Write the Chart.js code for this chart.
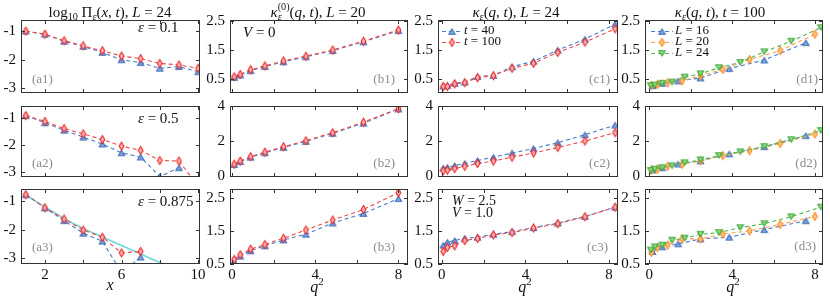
<!DOCTYPE html>
<html>
<head>
<meta charset="utf-8">
<script src="https://cdn.jsdelivr.net/npm/chart.js@4.4.0/dist/chart.umd.min.js"></script>
<style>
  html, body { margin: 0; padding: 0; background: #fff; }
  #wrap { position: relative; width: 830px; height: 299px; overflow: hidden; }
  #wrap canvas { position: absolute; }
</style>
</head>
<body>
<div id="wrap"></div>
<script>
// ---- data ----
const xA = [1, 2, 3, 4, 5, 6, 7, 8, 9, 10];
const a1Red = [-0.99, -1.1, -1.33, -1.51, -1.68, -1.87, -1.96, -2.13, -2.18, -2.3];
const a1Blue = [-0.99, -1.1, -1.35, -1.53, -1.74, -2.0, -2.1, -2.3, -2.24, -2.42];
const a2Red = [-0.89, -1.11, -1.38, -1.58, -1.79, -2.04, -2.2, -2.58, -2.6, -3.53];
const a2Blue = [-0.89, -1.16, -1.44, -1.7, -1.96, -2.29, -2.45, -3.18, -2.85];
const a3Red = [-0.77, -1.23, -1.62, -2.01, -2.26, -2.81, -2.76];
const a3Blue = [-0.77, -1.23, -1.68, -2.12, -2.4, -3.5, -2.96];
const a3FitX = [1, 2, 3, 4, 5, 6, 7, 8, 8.2];
const a3FitY = [-0.77, -1.2, -1.6, -1.95, -2.25, -2.55, -2.85, -3.15, -3.22];

const q2L16 = [0.15, 0.62, 1.39, 2.47, 3.86, 5.55, 7.56];
const q2L20 = [0.1, 0.39, 0.89, 1.58, 2.47, 3.55, 4.84, 6.32, 8.0];
const q2L24 = [0.07, 0.27, 0.62, 1.1, 1.71, 2.47, 3.36, 4.39, 5.55, 6.85, 8.29];

const b1Red = [0.59, 0.67, 0.83, 0.96, 1.13, 1.29, 1.5, 1.8, 2.18];
const b1Blue = [0.57, 0.65, 0.8, 0.94, 1.1, 1.27, 1.48, 1.78, 2.16];
const b2Red = [0.68, 0.86, 1.11, 1.37, 1.68, 2.02, 2.48, 3.08, 3.85];
const b2Blue = [0.66, 0.83, 1.08, 1.33, 1.64, 1.98, 2.44, 3.02, 3.83];
const b3Red = [0.64, 0.78, 0.95, 1.09, 1.28, 1.53, 1.83, 2.15, 2.66];
const b3Blue = [0.58, 0.74, 0.9, 1.05, 1.23, 1.4, 1.74, 2.03, 2.48];

const c1T100 = [0.26, 0.26, 0.35, 0.39, 0.56, 0.63, 0.88, 1.05, 1.42, 1.77, 2.22];
const c1T40 = [0.28, 0.3, 0.37, 0.41, 0.6, 0.64, 0.93, 1.12, 1.5, 1.87, 2.38];
const c2T100 = [0.31, 0.34, 0.43, 0.56, 0.72, 0.86, 1.08, 1.32, 1.63, 2.0, 2.48];
const c2T40 = [0.46, 0.5, 0.6, 0.73, 0.89, 1.08, 1.32, 1.57, 1.91, 2.36, 2.91];
const c3T100 = [0.88, 1.0, 1.05, 1.21, 1.27, 1.38, 1.45, 1.59, 1.72, 1.93, 2.22];
const c3T40 = [1.07, 1.16, 1.21, 1.28, 1.31, 1.4, 1.48, 1.6, 1.74, 1.94, 2.22];

const d1L16 = [0.29, 0.37, 0.45, 0.55, 0.87, 1.16, 1.75];
const d1L20 = [0.29, 0.33, 0.39, 0.45, 0.63, 0.84, 1.18, 1.48, 2.04];
const d1L24 = [0.29, 0.31, 0.37, 0.41, 0.58, 0.69, 0.9, 1.08, 1.44, 1.8, 2.26];
const d2L16 = [0.35, 0.48, 0.69, 0.87, 1.27, 1.68, 2.31];
const d2L20 = [0.35, 0.4, 0.56, 0.68, 0.87, 1.17, 1.45, 1.86, 2.4];
const d2L24 = [0.32, 0.4, 0.48, 0.59, 0.76, 0.92, 1.17, 1.39, 1.68, 2.08, 2.6];
const d3L16 = [0.88, 1.02, 1.11, 1.26, 1.31, 1.54, 1.81];
const d3L20 = [0.85, 1.0, 1.07, 1.26, 1.26, 1.41, 1.5, 1.7, 1.94];
const d3L24 = [0.92, 1.02, 1.07, 1.22, 1.28, 1.4, 1.45, 1.6, 1.72, 1.93, 2.22];

const xTicksA = [2, 4, 6, 8, 10];
const xLabelsA = [2, 6, 10];
const xTicksQ = [0, 2, 4, 6, 8];
const xLabelsQ = [0, 4, 8];
const yTicksA = [-3, -2, -1];
const yTicksRow = [[0.5, 1.5, 2.5], [0, 2, 4], [0.5, 1.5, 2.5]];

// ---- layout (plot boxes in page pixels) ----
const colX = [[21, 200], [230, 408], [438, 618], [645, 823]];
const rowY = [[20, 97], [102, 181], [185, 264]];
const xRange = [[0.75, 10.1], [-0.1, 8.46], [-0.18, 8.43], [-0.21, 8.39]];
const yRangeA = [[-3.17, -0.6], [-3.2, -0.53], [-3.2, -0.57]];
const yRangeQ = [[0.04, 2.52], [-0.05, 4.0], [0.5, 2.77]];

const SERIF = '"Liberation Serif", "DejaVu Serif", serif';
const wrap = document.getElementById('wrap');
const extras = {};

function marker(shape, stroke, fill) {
  const c = document.createElement('canvas');
  c.width = 9; c.height = 11;
  const g = c.getContext('2d');
  g.beginPath();
  if (shape === 'tri') { g.moveTo(4.5, 3); g.lineTo(7.6, 8.2); g.lineTo(1.4, 8.2); }
  else if (shape === 'dtri') { g.moveTo(1.4, 2.8); g.lineTo(7.6, 2.8); g.lineTo(4.5, 8); }
  else { g.moveTo(4.5, 1.5); g.lineTo(6.9, 5.5); g.lineTo(4.5, 9.5); g.lineTo(2.1, 5.5); }
  g.closePath();
  g.fillStyle = fill; g.fill();
  g.strokeStyle = stroke; g.lineWidth = 1.1; g.stroke();
  return c;
}

const BLUE = {line: '#4a7cc8', mk: marker('tri', '#3565b5', '#86aee4')};
const RED = {line: '#f04848', mk: marker('dia', '#ea2a2a', '#ffb0b0')};
const ORANGE = {line: '#ffa050', mk: marker('dia', '#ff8a1e', '#ffc488')};
const GREEN = {line: '#4cb84c', mk: marker('dtri', '#36a336', '#96e086')};

function series(xs, ys, sty) {
  return {
    data: ys.map((y, i) => ({x: xs[i], y: y})),
    borderColor: sty.line, borderWidth: 1.1, borderDash: [4, 3],
    pointStyle: sty.mk, pointRadius: 4, showLine: true, fill: false, tension: 0
  };
}

function rich(ctx, segs, x, y, size, align, color) {
  const font = st => {
    const small = st.includes('b') || st.includes('p');
    return (st.includes('i') ? 'italic ' : '') + (small ? size * 0.68 : size) + 'px ' + SERIF;
  };
  let w = 0, prevStart = 0;
  const lay = [];
  for (const [t, st] of segs) {
    ctx.font = font(st);
    const tw = ctx.measureText(t).width;
    if (st.includes('o')) {
      lay.push([t, st, prevStart]);
      w = Math.max(w, prevStart + tw);
    } else {
      lay.push([t, st, w]);
      prevStart = w;
      w += tw;
    }
  }
  const x0 = align === 'center' ? x - w / 2 : align === 'right' ? x - w : x;
  ctx.fillStyle = color; ctx.textBaseline = 'middle'; ctx.textAlign = 'left';
  for (const [t, st, sx] of lay) {
    ctx.font = font(st);
    let dy = 0;
    if (st.includes('b')) dy = size * 0.3;
    if (st.includes('p')) dy = -size * 0.38;
    ctx.fillText(t, x0 + sx, y + dy);
  }
}

const framePlugin = {
  id: 'frame',
  afterDatasetsDraw(chart) {
    const {ctx, chartArea: a, scales} = chart;
    ctx.save();
    ctx.strokeStyle = '#333'; ctx.lineWidth = 1;
    ctx.strokeRect(a.left + 0.5, a.top + 0.5, a.right - a.left - 1, a.bottom - a.top - 1);
    ctx.beginPath();
    for (const t of scales.x.ticks) {
      const px = Math.round(scales.x.getPixelForValue(t.value)) + 0.5;
      ctx.moveTo(px, a.bottom); ctx.lineTo(px, a.bottom - 4);
      ctx.moveTo(px, a.top); ctx.lineTo(px, a.top + 4);
    }
    for (const t of scales.y.ticks) {
      const py = Math.round(scales.y.getPixelForValue(t.value)) + 0.5;
      ctx.moveTo(a.left, py); ctx.lineTo(a.left + 4, py);
      ctx.moveTo(a.right, py); ctx.lineTo(a.right - 4, py);
    }
    ctx.stroke();
    ctx.restore();
  },
  afterDraw(chart) {
    const ctx = chart.ctx;
    const ex = extras[chart.canvas.id];
    ctx.save();
    for (const n of ex.notes) {
      rich(ctx, n[0], n[1] - ex.ox, n[2] - ex.oy, n[4], n[3], n[5]);
    }
    if (ex.legend) {
      const lg = ex.legend;
      lg.items.forEach((it, i) => {
        const y = lg.ys[i] - ex.oy;
        const x0 = lg.x0 - ex.ox, x1 = lg.x1 - ex.ox;
        ctx.save();
        ctx.strokeStyle = it[0].line; ctx.lineWidth = 1.1; ctx.setLineDash([4, 3]);
        ctx.beginPath(); ctx.moveTo(x0, y + 0.5); ctx.lineTo(x1, y + 0.5); ctx.stroke();
        ctx.restore();
        ctx.drawImage(it[0].mk, (x0 + x1) / 2 - 4.5, y - 5);
        rich(ctx, it[1], lg.tx - ex.ox, y, 13, 'left', '#111');
      });
    }
    ctx.restore();
  }
};

function panel(key, col, row, datasets, notes, legend) {
  const [L, R] = colX[col], [T, B] = rowY[row];
  const lp = Math.min(24, L), tp = row === 0 ? 20 : 10, bp = row === 2 ? 35 : 10, rp = 10;
  const cv = document.createElement('canvas');
  cv.width = lp + (R - L) + rp; cv.height = tp + (B - T) + bp;
  cv.style.left = (L - lp) + 'px'; cv.style.top = (T - tp) + 'px';
  cv.id = key;
  wrap.appendChild(cv);
  extras[key] = {ox: L - lp, oy: T - tp, notes: notes, legend: legend};

  const xt = col === 0 ? xTicksA : xTicksQ;
  const xl = col === 0 ? xLabelsA : xLabelsQ;
  const yt = col === 0 ? yTicksA : yTicksRow[row];
  const yr = col === 0 ? yRangeA[row] : yRangeQ[row];
  const tickFont = {family: SERIF, size: 15};

  new Chart(cv, {
    type: 'line',
    data: {datasets: datasets},
    options: {
      responsive: false, animation: false, devicePixelRatio: 1,
      layout: {padding: {top: tp, right: rp, left: 0, bottom: 0}},
      plugins: {legend: {display: false}, tooltip: {enabled: false}},
      scales: {
        x: {
          type: 'linear', min: xRange[col][0], max: xRange[col][1],
          afterBuildTicks: s => { s.ticks = xt.map(v => ({value: v})); },
          afterFit: s => { s.height = bp; },
          grid: {display: false, drawTicks: false}, border: {display: false},
          ticks: {display: row === 2, autoSkip: false, maxRotation: 0, padding: 2, color: '#111', font: tickFont,
                  callback: v => xl.includes(v) ? String(v) : ''}
        },
        y: {
          type: 'linear', min: yr[0], max: yr[1],
          afterBuildTicks: s => { s.ticks = yt.map(v => ({value: v})); },
          afterFit: s => { s.width = lp; },
          grid: {display: false, drawTicks: false}, border: {display: false},
          ticks: {autoSkip: false, padding: 5, color: '#111', font: tickFont, callback: v => String(v)}
        }
      }
    },
    plugins: [framePlugin]
  });
}

const GREY = '#8c8c8c', INK = '#111';
const eps = v => [['ε', 'i'], [' = ' + v, 'r']];
const qsq = [['q', 'i'], ['2', 'p']];

// column a
panel('a1', 0, 0, [series(xA, a1Red, RED), series(xA, a1Blue, BLUE)], [
  [[['log', 'r'], ['10', 'b'], [' Π', 'r'], ['ε', 'bi'], ['(', 'r'], ['x', 'i'], [', ', 'r'], ['t', 'i'], ['), ', 'r'], ['L', 'i'], [' = 24', 'r']], 110, 13, 'center', 15, INK],
  [eps('0.1'), 138, 28, 'left', 15, INK],
  [[['(a1)', 'r']], 32, 80, 'left', 13, GREY]
]);
panel('a2', 0, 1, [series(xA, a2Red, RED), series(xA, a2Blue, BLUE)], [
  [eps('0.5'), 138, 119, 'left', 15, INK],
  [[['(a2)', 'r']], 32, 164, 'left', 13, GREY]
]);
const fit = {
  data: a3FitY.map((y, i) => ({x: a3FitX[i], y: y})),
  borderColor: '#6fd8d8', borderWidth: 1.6, pointRadius: 0, showLine: true, fill: false, tension: 0.3
};
panel('a3', 0, 2, [series(xA, a3Red, RED), series(xA, a3Blue, BLUE), fit], [
  [eps('0.875'), 138, 202, 'left', 15, INK],
  [[['(a3)', 'r']], 32, 248, 'left', 13, GREY],
  [[['x', 'i']], 110, 286, 'center', 16, INK]
]);

// column b
panel('b1', 1, 0, [series(q2L20, b1Red, RED), series(q2L20, b1Blue, BLUE)], [
  [[['κ', 'i'], ['ε', 'bi'], ['(0)', 'po'], ['(', 'r'], ['q', 'i'], [', ', 'r'], ['t', 'i'], ['), ', 'r'], ['L', 'i'], [' = 20', 'r']], 318, 13, 'center', 15, INK],
  [[['V', 'i'], [' = 0', 'r']], 243, 33, 'left', 15, INK],
  [[['(b1)', 'r']], 395, 80, 'right', 13, GREY]
]);
panel('b2', 1, 1, [series(q2L20, b2Red, RED), series(q2L20, b2Blue, BLUE)], [
  [[['(b2)', 'r']], 395, 164, 'right', 13, GREY]
]);
panel('b3', 1, 2, [series(q2L20, b3Red, RED), series(q2L20, b3Blue, BLUE)], [
  [[['(b3)', 'r']], 395, 248, 'right', 13, GREY],
  [qsq, 317, 288, 'center', 16, INK]
]);

// column c
panel('c1', 2, 0, [series(q2L24, c1T100, RED), series(q2L24, c1T40, BLUE)], [
  [[['κ', 'i'], ['ε', 'bi'], ['(', 'r'], ['q', 'i'], [', ', 'r'], ['t', 'i'], ['), ', 'r'], ['L', 'i'], [' = 24', 'r']], 516, 13, 'center', 15, INK],
  [[['(c1)', 'r']], 610, 80, 'right', 13, GREY]
], {x0: 442, x1: 462, tx: 464, ys: [31, 42], items: [
  [BLUE, [['t', 'i'], [' = 40', 'r']]],
  [RED, [['t', 'i'], [' = 100', 'r']]]
]});
panel('c2', 2, 1, [series(q2L24, c2T100, RED), series(q2L24, c2T40, BLUE)], [
  [[['(c2)', 'r']], 610, 164, 'right', 13, GREY]
]);
panel('c3', 2, 2, [series(q2L24, c3T100, RED), series(q2L24, c3T40, BLUE)], [
  [[['W', 'i'], [' = 2.5', 'r']], 452, 201, 'left', 14, INK],
  [[['V', 'i'], [' = 1.0', 'r']], 452, 213, 'left', 14, INK],
  [[['(c3)', 'r']], 608, 248, 'right', 13, GREY],
  [qsq, 525, 288, 'center', 16, INK]
]);

// column d
panel('d1', 3, 0, [series(q2L24, d1L24, GREEN), series(q2L20, d1L20, ORANGE), series(q2L16, d1L16, BLUE)], [
  [[['κ', 'i'], ['ε', 'bi'], ['(', 'r'], ['q', 'i'], [', ', 'r'], ['t', 'i'], ['), ', 'r'], ['t', 'i'], [' = 100', 'r']], 720, 13, 'center', 15, INK],
  [[['(d1)', 'r']], 818, 80, 'right', 13, GREY]
], {x0: 651, x1: 673, tx: 675, ys: [31, 42, 53], items: [
  [BLUE, [['L', 'i'], [' = 16', 'r']]],
  [ORANGE, [['L', 'i'], [' = 20', 'r']]],
  [GREEN, [['L', 'i'], [' = 24', 'r']]]
]});
panel('d2', 3, 1, [series(q2L24, d2L24, GREEN), series(q2L20, d2L20, ORANGE), series(q2L16, d2L16, BLUE)], [
  [[['(d2)', 'r']], 817, 164, 'right', 13, GREY]
]);
panel('d3', 3, 2, [series(q2L24, d3L24, GREEN), series(q2L20, d3L20, ORANGE), series(q2L16, d3L16, BLUE)], [
  [[['(d3)', 'r']], 816, 247, 'right', 13, GREY],
  [qsq, 733, 288, 'center', 16, INK]
]);
</script>
</body>
</html>
